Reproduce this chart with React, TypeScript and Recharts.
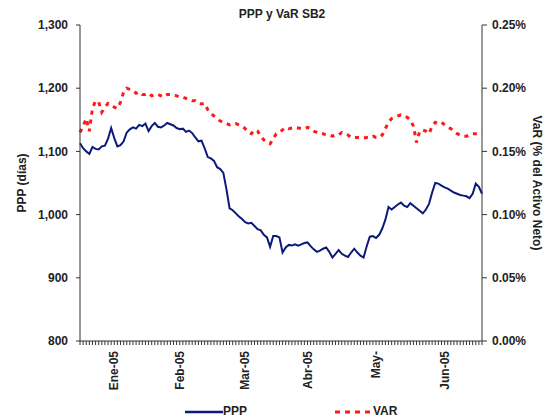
import { LineChart, Line, XAxis, YAxis } from 'recharts';

// PPP (días), one value per business day
const ppp = [
  1113, 1105, 1100, 1096, 1107, 1104, 1103, 1108, 1109, 1120,
  1137, 1121, 1108, 1110, 1116, 1130, 1135, 1138, 1136, 1142,
  1140, 1144, 1132, 1140, 1145, 1139, 1138, 1141, 1145, 1143,
  1141, 1137, 1135, 1136, 1131, 1133, 1129, 1122, 1116, 1117,
  1105, 1091, 1089, 1085, 1075, 1072, 1066, 1040, 1010, 1007,
  1002, 997, 993, 988, 986, 987, 982, 977, 975, 968,
  964, 949, 966, 966, 964, 940, 948, 952, 951, 953,
  951, 953, 955, 956, 950, 945, 941, 943, 946, 948,
  941, 932, 938, 944, 938, 935, 933, 940, 946, 940,
  935, 932, 950, 965, 966, 963, 968, 978, 992, 1012,
  1008, 1012, 1016, 1019, 1014, 1012, 1018, 1014, 1010, 1006,
  1002, 1008, 1017, 1035, 1050, 1049, 1046, 1043, 1041, 1038,
  1035, 1033, 1031, 1030, 1029, 1026, 1033, 1049, 1044, 1033,
];

// VaR (% del Activo Neto)
const varPct = [
  0.165, 0.170, 0.176, 0.166, 0.184, 0.190, 0.189, 0.181, 0.185, 0.188,
  0.187, 0.185, 0.184, 0.189, 0.197, 0.200, 0.199, 0.198, 0.196, 0.197,
  0.195, 0.195, 0.196, 0.194, 0.195, 0.195, 0.194, 0.193, 0.195, 0.195,
  0.195, 0.194, 0.193, 0.193, 0.192, 0.191, 0.190, 0.190, 0.188, 0.1875,
  0.188, 0.183, 0.180, 0.178, 0.176, 0.174, 0.173, 0.172, 0.171, 0.172,
  0.172, 0.171, 0.170, 0.168, 0.165, 0.164, 0.167, 0.166, 0.162, 0.159,
  0.157, 0.156, 0.160, 0.164, 0.165, 0.167, 0.169, 0.168, 0.1685, 0.169,
  0.1685, 0.168, 0.168, 0.169, 0.168, 0.166, 0.165, 0.164, 0.164, 0.163,
  0.163, 0.162, 0.163, 0.163, 0.165, 0.164, 0.163, 0.161, 0.161, 0.161,
  0.161, 0.1605, 0.161, 0.161, 0.162, 0.161, 0.161, 0.163, 0.168, 0.173,
  0.176, 0.177, 0.178, 0.179, 0.178, 0.177, 0.175, 0.170, 0.157, 0.166,
  0.167, 0.166, 0.164, 0.170, 0.173, 0.172, 0.173, 0.171, 0.169, 0.168,
  0.166, 0.164, 0.163, 0.162, 0.162, 0.163, 0.164, 0.164, 0.164, 0.164,
];

// month labels and the business day they sit on
const monthLabels = ['Ene-05', 'Feb-05', 'Mar-05', 'Abr-05', 'May-', 'Jun-05'];
const monthDays = [11, 32, 53, 73, 95, 117];

const leftTicks = [800, 900, 1000, 1100, 1200, 1300];
const rightTicks = [0, 0.05, 0.1, 0.15, 0.2, 0.25];

const data = ppp.map((v, i) => ({ day: i, ppp: v, var: varPct[i] }));

const FONT = '"Liberation Sans", Arial, sans-serif';
const NAVY = '#0b1a78';
const RED = '#ff1a1a';

function MonthTick(props: any) {
  const { x, y, payload } = props;
  const k = monthDays.indexOf(payload.value);
  if (k < 0) return null;
  return (
    <text
      x={x}
      y={y + 4}
      transform={`rotate(-90, ${x}, ${y + 4})`}
      textAnchor="end"
      dy="0.35em"
      fontSize={12}
      fontWeight="bold"
      fill="#222"
      fontFamily={FONT}
    >
      {monthLabels[k]}
    </text>
  );
}

const tickStyle = { fontSize: 12, fontWeight: 'bold', fill: '#222', fontFamily: FONT };

export default function App() {
  return (
    <div
      style={{
        position: 'absolute',
        left: 0,
        top: 0,
        width: 550,
        height: 420,
        background: '#fff',
        fontFamily: FONT,
      }}
    >
      <div
        style={{
          position: 'absolute',
          top: 7,
          left: 182,
          width: 200,
          textAlign: 'center',
          fontSize: 12,
          fontWeight: 'bold',
          color: '#222',
        }}
      >
        PPP y VaR SB2
      </div>

      <LineChart
        width={550}
        height={420}
        data={data}
        margin={{ top: 25, right: 8, left: 20, bottom: 29 }}
      >
        <XAxis
          dataKey="day"
          interval={0}
          tick={<MonthTick />}
          tickSize={4}
          stroke="#333"
          height={50}
        />
        <YAxis
          yAxisId="left"
          domain={[800, 1300]}
          ticks={leftTicks}
          tickFormatter={(v: number) => v.toLocaleString('en-US')}
          tick={tickStyle}
          tickSize={4}
          tickMargin={8}
          stroke="#333"
          width={60}
          label={{
            value: 'PPP (días)',
            angle: -90,
            position: 'insideLeft',
            offset: 2,
            style: { ...tickStyle, textAnchor: 'middle' },
          }}
        />
        <YAxis
          yAxisId="right"
          orientation="right"
          domain={[0, 0.25]}
          ticks={rightTicks}
          tickFormatter={(v: number) => `${v.toFixed(2)}%`}
          tick={tickStyle}
          tickSize={5}
          tickMargin={5}
          stroke="#333"
          width={60}
          label={{
            value: 'VaR (% del Activo Neto)',
            angle: 90,
            position: 'insideRight',
            offset: 5,
            style: { ...tickStyle, textAnchor: 'middle' },
          }}
        />
        <Line
          yAxisId="right"
          type="linear"
          dataKey="var"
          stroke={RED}
          strokeWidth={3}
          strokeDasharray="4 5"
          dot={false}
          isAnimationActive={false}
        />
        <Line
          yAxisId="left"
          type="linear"
          dataKey="ppp"
          stroke={NAVY}
          strokeWidth={2}
          dot={false}
          isAnimationActive={false}
        />
      </LineChart>

      <div
        style={{
          position: 'absolute',
          top: 404,
          left: 185,
          display: 'flex',
          alignItems: 'center',
          fontSize: 12,
          fontWeight: 'bold',
          color: '#222',
        }}
      >
        <svg width={38} height={8}>
          <line x1={0} y1={5} x2={38} y2={5} stroke={NAVY} strokeWidth={2.5} />
        </svg>
        <span>PPP</span>
      </div>
      <div
        style={{
          position: 'absolute',
          top: 404,
          left: 335,
          display: 'flex',
          alignItems: 'center',
          fontSize: 12,
          fontWeight: 'bold',
          color: '#222',
        }}
      >
        <svg width={38} height={8}>
          <line x1={0} y1={5} x2={38} y2={5} stroke={RED} strokeWidth={3} strokeDasharray="5 5" />
        </svg>
        <span>VAR</span>
      </div>
    </div>
  );
}
